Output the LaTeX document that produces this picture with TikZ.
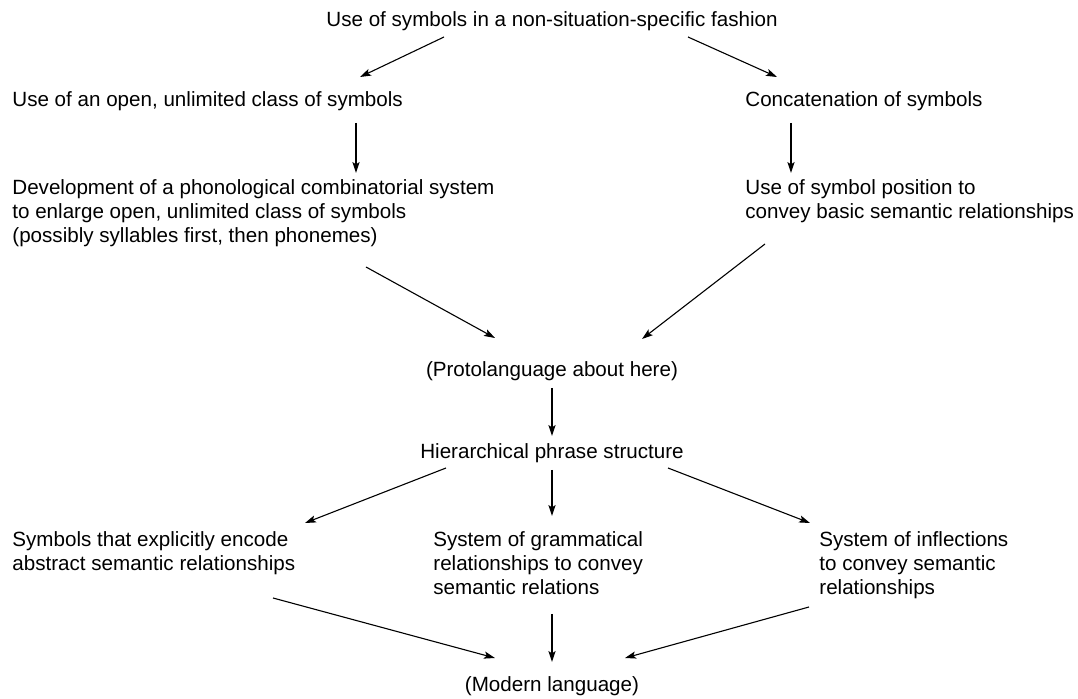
\documentclass[tikz,border=0pt]{standalone}
\usepackage{fontspec}
\setmainfont{Liberation Sans}
\usetikzlibrary{arrows.meta}

\begin{document}
\begin{tikzpicture}[
    x=0.5pt, y=-0.5pt,
    every node/.style={font=\fontsize{10.3}{12}\selectfont, inner sep=0pt, align=left},
    lbl/.style={anchor=base west},
    mid/.style={anchor=base},
    arr/.style={-{Stealth[length=5.5pt,width=3.6pt,inset=1.2pt]}, line width=0.55pt}]
    \useasboundingbox (0,0) rectangle (1078,699);

    % the steps, top to bottom (base = last line of a node)
    \node[mid] (top) at (552,27) {Use of symbols in a non-situation-specific fashion};
    \node[lbl] (open) at (12,107) {Use of an open, unlimited class of symbols};
    \node[lbl] (concat) at (745,107) {Concatenation of symbols};
    \node[lbl] (phon) at (12,243) {Development of a phonological combinatorial system\\
        to enlarge open, unlimited class of symbols\\
        (possibly syllables first, then phonemes)};
    \node[lbl] (posit) at (745,219) {Use of symbol position to\\
        convey basic semantic relationships};
    \node[mid] (proto) at (552,377) {(Protolanguage about here)};
    \node[mid] (hier) at (552,459) {Hierarchical phrase structure};
    \node[lbl] (encode) at (12,571) {Symbols that explicitly encode\\
        abstract semantic relationships};
    \node[lbl] (gramm) at (433,595) {System of grammatical\\
        relationships to convey\\
        semantic relations};
    \node[lbl] (infl) at (819,595) {System of inflections\\
        to convey semantic\\
        relationships};
    \node[mid] (modern) at (552,692) {(Modern language)};

    % arrows
    \draw[arr] ([shift={(-108,10)}]top.base) -- ([shift={(348,-30)}]open.base west);
    \draw[arr] ([shift={(136,10)}]top.base) -- ([shift={(32,-30)}]concat.base west);
    \draw[arr] ([shift={(344,16)}]open.base west) -- ([shift={(344,-70)}]phon.base west);
    \draw[arr] ([shift={(46,16)}]concat.base west) -- ([shift={(46,-46)}]posit.base west);
    \draw[arr] ([shift={(354,24)}]phon.base west) -- ([shift={(-57,-39)}]proto.base);
    \draw[arr] ([shift={(20,25)}]posit.base west) -- ([shift={(90,-38)}]proto.base);
    \draw[arr] ([shift={(0,11)}]proto.base) -- ([shift={(0,-23)}]hier.base);
    \draw[arr] ([shift={(-106,9)}]hier.base) -- ([shift={(293,-48)}]encode.base west);
    \draw[arr] ([shift={(0,11)}]hier.base) -- ([shift={(119,-79)}]gramm.base west);
    \draw[arr] ([shift={(116,9)}]hier.base) -- ([shift={(-9,-72)}]infl.base west);
    \draw[arr] ([shift={(261,27)}]encode.base west) -- ([shift={(-57,-34)}]modern.base);
    \draw[arr] ([shift={(119,19)}]gramm.base west) -- ([shift={(0,-30)}]modern.base);
    \draw[arr] ([shift={(-10,12)}]infl.base west) -- ([shift={(73,-34)}]modern.base);

\end{tikzpicture}
\end{document}
